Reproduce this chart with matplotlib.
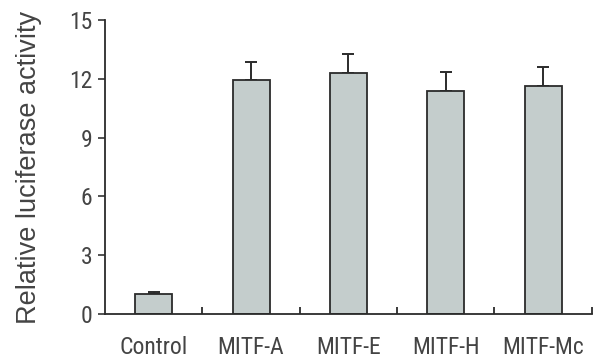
import numpy as np
import matplotlib.pyplot as plt

plt.rcParams['font.family'] = ['Roboto Condensed', 'Liberation Sans', 'DejaVu Sans']

# Data
groups = ["Control", "MITF-A", "MITF-E", "MITF-H", "MITF-Mc"]
activity = [1.02, 11.95, 12.3, 11.38, 11.65]
errors = [0.1, 0.93, 0.96, 0.95, 0.96]
yticks = [0, 3, 6, 9, 12, 15]

fig = plt.figure(figsize=(5.93, 3.63), dpi=100)
ax = fig.add_axes([0.177, 0.135, 0.821, 0.81])

x = np.arange(len(groups))
ax.bar(x, activity, width=0.38, color="#c4cdcc", edgecolor="#2b2b2b", linewidth=1.3, zorder=2)
ax.errorbar(x, activity, yerr=[np.zeros(len(errors)), errors], fmt="none",
            ecolor="#2b2b2b", elinewidth=1.4, capsize=4.5, capthick=1.4, zorder=1)

ax.set_xlim(-0.5, len(groups) - 0.5)
ax.set_ylim(0, 15)
ax.set_yticks(yticks)
ax.set_xticks(x)
ax.set_xticklabels(groups)
ax.set_xticks(x + 0.5, minor=True)
ax.tick_params(axis="x", which="major", length=0, pad=16, labelsize=17, colors="#444444")
ax.tick_params(axis="x", which="minor", direction="in", length=5, width=1.3, color="#2b2b2b")
ax.tick_params(axis="y", direction="out", length=5, width=1.3, pad=4, labelsize=17,
               colors="#444444")

for side in ["top", "right"]:
    ax.spines[side].set_visible(False)
for side in ["left", "bottom"]:
    ax.spines[side].set_linewidth(1.3)
    ax.spines[side].set_color("#2b2b2b")

ax.set_ylabel("Relative luciferase activity", fontsize=19.5, color="#444444",
              family=["Liberation Sans", "DejaVu Sans"])
ax.yaxis.set_label_coords(-0.13, 0.5)

fig.savefig("out.png", dpi=100)
